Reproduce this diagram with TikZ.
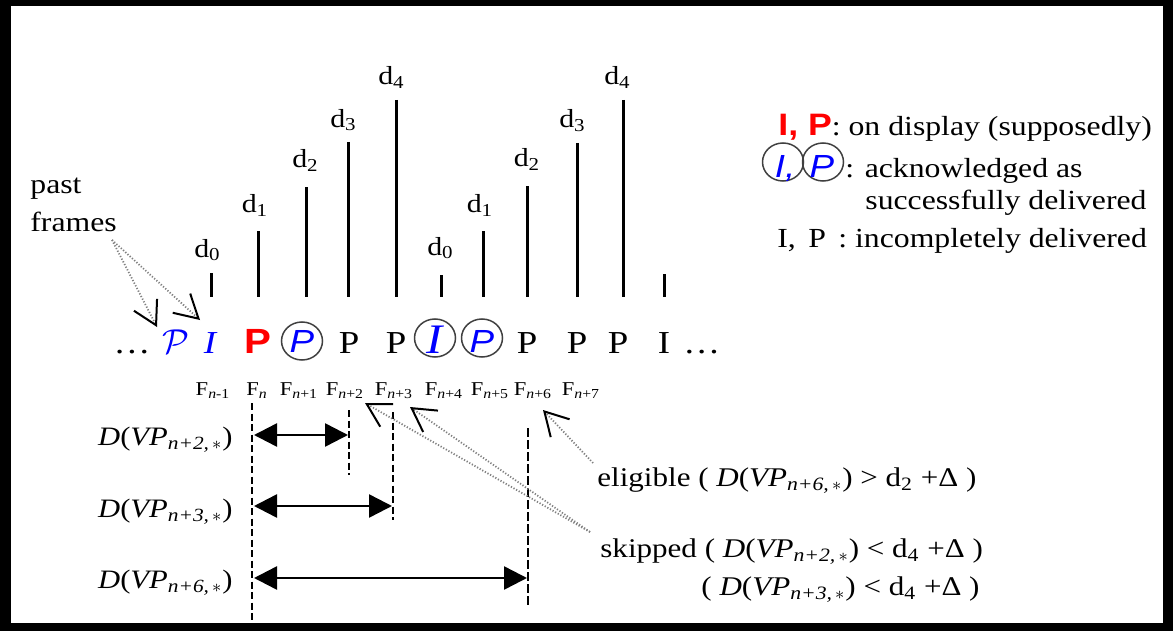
\documentclass[tikz,border=0pt]{standalone}
\usepackage{fontspec}
\setmainfont[FakeStretch=1.15]{Liberation Serif}
\newfontfamily\sansf[FakeStretch=1.15]{Liberation Sans}
\usetikzlibrary{arrows.meta,shapes.geometric}
\definecolor{ringgray}{HTML}{404040}
\definecolor{dotgray}{HTML}{808080}
\newcommand{\myfs}[1]{\fontsize{#1}{#1}\selectfont}
\newcommand{\DVP}[1]{\textit{D}(\textit{VP}\textsubscript{\itshape n+#1,\,$\ast$})}
\tikzset{
  txt/.style={inner sep=0pt, anchor=base},
  body/.style={txt, font=\myfs{13.8}},
  cond/.style={txt, font=\myfs{13.5}},
  leftlab/.style={txt, anchor=base east, font=\myfs{13.3}},
  dlab/.style={txt, font=\myfs{13}},
  flab/.style={txt, font=\myfs{9.8}},
  frm/.style={txt, font=\myfs{16}},
  sansit/.style={txt, text=blue, font=\sansf\itshape\myfs{16}},
  mybar/.style={line width=1.5pt},
  myring/.style={draw=ringgray, line width=0.75pt, ellipse, minimum width=20.5pt, minimum height=19pt, inner sep=0pt},
  vdash/.style={line width=0.8pt, dash pattern=on 3.5pt off 1.75pt},
  vdashb/.style={line width=1.3pt, dash pattern=on 4.5pt off 1.5pt},
  myspan/.style={line width=1.25pt, {Triangle[length=11.5pt,width=11.5pt]}-{Triangle[length=11.5pt,width=11.5pt]}},
  pointer/.style={draw=dotgray, line width=0.9pt, dash pattern=on 0.6pt off 0.9pt,
    -{Straight Barb[length=11.5pt,width=13pt,line width=1pt,color=black]}},
}
\begin{document}
\begin{tikzpicture}[x=0.5pt,y=-0.5pt]
\useasboundingbox (0,0) rectangle (1173,631);
\fill[black] (0,0) rectangle (1173,631);
\fill[white] (11,6) rectangle (1163,623);

% past frames
\node[body, anchor=base west] (past) at (30,193) {past};
\node[body, anchor=base west] (frames) at (30,231) {frames};

% frame row
\node[frm] (dl) at (132,353) {…};
\node[txt, text=blue, font=\myfs{16}] (cp) at (176,353) {$\mathcal{P}$};
\node[frm, text=blue] (i0) at (210,353) {\itshape I};
\node[txt, text=red, font=\sansf\bfseries\myfs{17.5}] (pn) at (258,353) {P};
\node[myring] (r1) at (302,341) {};
\node[sansit] (p1) at (302,352) {P};
\node[frm] (p2) at (349,353) {P};
\node[frm] (p3) at (396,353) {P};
\node[myring] (r4) at (435,338) {};
\node[txt, text=blue, font=\itshape\myfs{21}] (i4) at (435,353) {I};
\node[myring] (r5) at (482,338) {};
\node[sansit] (p5) at (482,352) {P};
\node[frm] (p6) at (527,353) {P};
\node[frm] (p7) at (577,353) {P};
\node[frm] (p8) at (618,353) {P};
\node[frm] (i9) at (664,353) {I};
\node[frm, anchor=base west] (dr) at (683,353) {…};

% bars and d labels
\draw[mybar] (211,273) -- (211,297);
\draw[mybar] (258,231) -- (258,297);
\draw[mybar] (306,187) -- (306,297);
\draw[mybar] (348,142) -- (348,297);
\draw[mybar] (396,100) -- (396,297);
\draw[mybar] (441,275) -- (441,297);
\draw[mybar] (483,231) -- (483,297);
\draw[mybar] (527,186) -- (527,297);
\draw[mybar] (577,143) -- (577,297);
\draw[mybar] (623,100) -- (623,297);
\draw[mybar] (664,274) -- (664,297);
\node[dlab] (da0) at (207.5,257) {d\textsubscript{0}};
\node[dlab] (da1) at (255,213) {d\textsubscript{1}};
\node[dlab] (da2) at (305.5,168) {d\textsubscript{2}};
\node[dlab] (da3) at (343.5,127) {d\textsubscript{3}};
\node[dlab] (da4) at (391.5,85) {d\textsubscript{4}};
\node[dlab] (db0) at (440.5,255) {d\textsubscript{0}};
\node[dlab] (db1) at (480,213) {d\textsubscript{1}};
\node[dlab] (db2) at (527,167) {d\textsubscript{2}};
\node[dlab] (db3) at (572.5,128) {d\textsubscript{3}};
\node[dlab] (db4) at (617.5,85) {d\textsubscript{4}};

% F labels
\node[flab] (fm1) at (213,395) {F\textsubscript{\textit{n}-1}};
\node[flab] (f0) at (257,395) {F\textsubscript{\textit{n}}};
\node[flab] (f1) at (299,395) {F\textsubscript{\textit{n}+1}};
\node[flab] (f2) at (345,395) {F\textsubscript{\textit{n}+2}};
\node[flab] (f3) at (394,395) {F\textsubscript{\textit{n}+3}};
\node[flab] (f4) at (444,395) {F\textsubscript{\textit{n}+4}};
\node[flab] (f5) at (490,395) {F\textsubscript{\textit{n}+5}};
\node[flab] (f6) at (533,395) {F\textsubscript{\textit{n}+6}};
\node[flab] (f7) at (581,395) {F\textsubscript{\textit{n}+7}};

% dashed verticals
\coordinate (v0t) at (252,403); \coordinate (v0b) at (252,623);
\coordinate (v2t) at (349,410); \coordinate (v2b) at (349,475);
\coordinate (v3t) at (393,412); \coordinate (v3b) at (393,520);
\coordinate (v6t) at (528,428); \coordinate (v6b) at (528,608);
\draw[vdash] (v0t) -- (v0b);
\draw[vdash] (v2t) -- (v2b);
\draw[vdash] (v3t) -- (v3b);
\draw[vdashb] (v6t) -- (v6b);

% spans
\coordinate (a1l) at (254,435); \coordinate (a1r) at (348,435);
\coordinate (a2l) at (254,506); \coordinate (a2r) at (392,506);
\coordinate (a3l) at (254,578); \coordinate (a3r) at (527,578);
\draw[myspan] (a1l) -- (a1r);
\draw[myspan] (a2l) -- (a2r);
\draw[myspan] (a3l) -- (a3r);
\node[leftlab] (l2) at (233,445) {\DVP{2}};
\node[leftlab] (l3) at (233,517) {\DVP{3}};
\node[leftlab] (l6) at (233,588) {\DVP{6}};

% right labels
\node[cond, anchor=base west] (elig) at (597,486) {eligible ( \DVP{6} > d\textsubscript{2} +Δ )};
\node[cond, anchor=base west] (skip) at (600,557) {skipped ( \DVP{2} < d\textsubscript{4} +Δ )};
\node[cond, anchor=base east] (skip2) at (980,595) {( \DVP{3} < d\textsubscript{4} +Δ )};

% pointers
\coordinate (pfs) at (112,240);
\coordinate (tpa) at (157,327);
\coordinate (tpb) at (200,320);
\draw[pointer] (pfs) -- (tpa);
\draw[pointer] (pfs) -- (tpb);
\coordinate (es) at (593,463);
\coordinate (et) at (543,410);
\draw[pointer] (es) -- (et);
\coordinate (ss) at (590,532);
\coordinate (st2) at (365,403);
\coordinate (st3) at (410,407);
\draw[pointer] (ss) -- (st2);
\draw[pointer] (ss) -- (st3);

% legend
\node[body, anchor=base west] (lg1) at (778,135) {{\sansf\bfseries\myfs{15.5}\color{red}I, P}: on display (supposedly)};
\node[myring] (lr1) at (783,162) {};
\node[myring] (lr2) at (823,162) {};
\node[sansit] (li) at (785,177) {I,};
\node[sansit] (lp) at (822,177) {P};
\node[body, anchor=base west] (lg2) at (845,177) {: acknowledged as};
\node[body, anchor=base west] (lg3) at (865,209) {successfully delivered};
\node[body, anchor=base west] (lg4) at (777,247) {I,\hspace{0.45em}P\hspace{0.45em}: incompletely delivered};
\end{tikzpicture}
\end{document}
